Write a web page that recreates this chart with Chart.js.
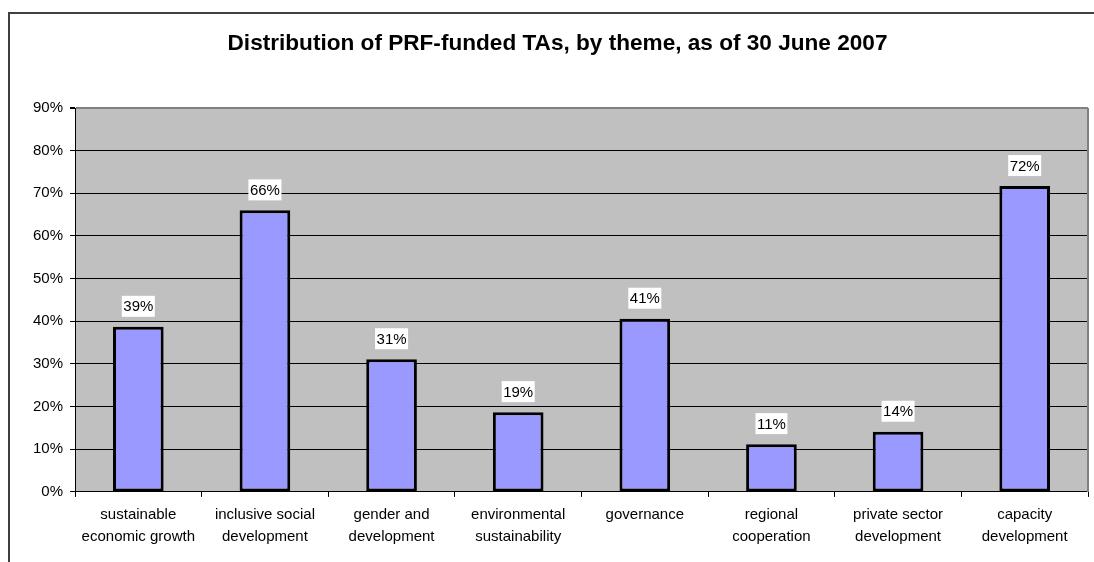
<!DOCTYPE html>
<html>
<head>
<meta charset="utf-8">
<script src="https://cdn.jsdelivr.net/npm/chart.js@4.4.0/dist/chart.umd.min.js"></script>
<style>
    html, body { margin: 0; padding: 0; background: #fff; overflow: hidden; width: 1094px; height: 562px; }
    #frame { position: absolute; left: 8px; top: 12px; width: 1200px; height: 700px; border: 2px solid #404040; box-sizing: border-box; }
    #wrap { position: absolute; left: 0; top: 0; width: 1115px; height: 562px; }
</style>
</head>
<body>
<div id="frame"></div>
<div id="wrap"><canvas id="themeChart"></canvas></div>
<script>
// chart data
var themes = [
    ['sustainable', 'economic growth'],
    ['inclusive social', 'development'],
    ['gender and', 'development'],
    ['environmental', 'sustainability'],
    ['governance'],
    ['regional', 'cooperation'],
    ['private sector', 'development'],
    ['capacity', 'development']
];
var shares = [38.7, 66.0, 31.1, 18.7, 40.6, 11.2, 14.1, 71.7];
var yTicks = [0, 10, 20, 30, 40, 50, 60, 70, 80, 90];
var chartTitle = 'Distribution of PRF-funded TAs, by theme, as of 30 June 2007';

var ctx = document.getElementById('themeChart').getContext('2d');

// grey plot area, grey right edge, title (centred on the frame, not the plot)
var plotBg = {
    id: 'plotBg',
    beforeDraw: function (chart) {
        var a = chart.chartArea, c = chart.ctx;
        c.save();
        c.fillStyle = '#C0C0C0';
        c.fillRect(a.left, a.top, a.right - a.left, a.bottom - a.top);
        c.restore();
    },
    afterDraw: function (chart) {
        var a = chart.chartArea, c = chart.ctx;
        c.save();
        c.strokeStyle = '#808080';
        c.lineWidth = 2;
        c.beginPath();
        c.moveTo(a.right, a.top);
        c.lineTo(a.right, a.bottom);
        c.stroke();

        c.font = 'bold 22.6px Arial, "Liberation Sans", sans-serif';
        c.fillStyle = '#000';
        c.textAlign = 'center';
        c.textBaseline = 'alphabetic';
        c.fillText(chartTitle, chart.width / 2, 50);
        c.restore();
    }
};

// white boxed value labels above bars
var valueLabels = {
    id: 'valueLabels',
    afterDatasetsDraw: function (chart) {
        var c = chart.ctx;
        var meta = chart.getDatasetMeta(0);
        c.save();
        c.font = '15px Arial, "Liberation Sans", sans-serif';
        c.textAlign = 'center';
        c.textBaseline = 'middle';
        meta.data.forEach(function (bar, i) {
            var txt = Math.round(shares[i]) + '%';
            var w = c.measureText(txt).width + 3;
            var h = 21;
            var cy = bar.y - 10 - h / 2;
            c.fillStyle = '#fff';
            c.fillRect(bar.x - w / 2, cy - h / 2, w, h);
            c.fillStyle = '#000';
            c.fillText(txt, bar.x, cy + 1);
        });
        c.restore();
    }
};

var chart = new Chart(ctx, {
    type: 'bar',
    data: {
        labels: themes,
        datasets: [{
            data: shares,
            backgroundColor: '#9999FF',
            borderColor: '#000',
            borderWidth: 3,
            borderSkipped: false,
            barPercentage: 0.4,
            categoryPercentage: 1.0
        }]
    },
    options: {
        responsive: true,
        maintainAspectRatio: false,
        animation: false,
        layout: {
            padding: { left: 0, right: 27, top: 108, bottom: 7 }
        },
        plugins: {
            legend: { display: false },
            tooltip: { enabled: false },
            title: { display: false }
        },
        scales: {
            x: {
                grid: {
                    offset: true,
                    drawOnChartArea: false,
                    drawTicks: true,
                    tickLength: 5,
                    tickColor: '#000'
                },
                border: { color: '#000', width: 1 },
                ticks: {
                    color: '#000',
                    padding: 7,
                    maxRotation: 0,
                    autoSkip: false,
                    font: { family: 'Arial, "Liberation Sans", sans-serif', size: 15, lineHeight: 1.47 }
                }
            },
            y: {
                min: 0,
                max: 90,
                afterBuildTicks: function (scale) {
                    scale.ticks = yTicks.map(function (v) { return { value: v }; });
                },
                afterFit: function (scale) { scale.width = 75; },
                grid: {
                    color: function (c) { return c.tick && c.tick.value === 90 ? '#808080' : '#000'; },
                    lineWidth: function (c) { return c.tick && c.tick.value === 90 ? 2 : 1; },
                    tickLength: 5,
                    tickColor: '#000'
                },
                border: { color: '#000', width: 1 },
                ticks: {
                    color: '#000',
                    padding: 7,
                    font: { family: 'Arial, "Liberation Sans", sans-serif', size: 15 },
                    callback: function (v) { return v + '%'; }
                }
            }
        }
    },
    plugins: [plotBg, valueLabels]
});
</script>
</body>
</html>
